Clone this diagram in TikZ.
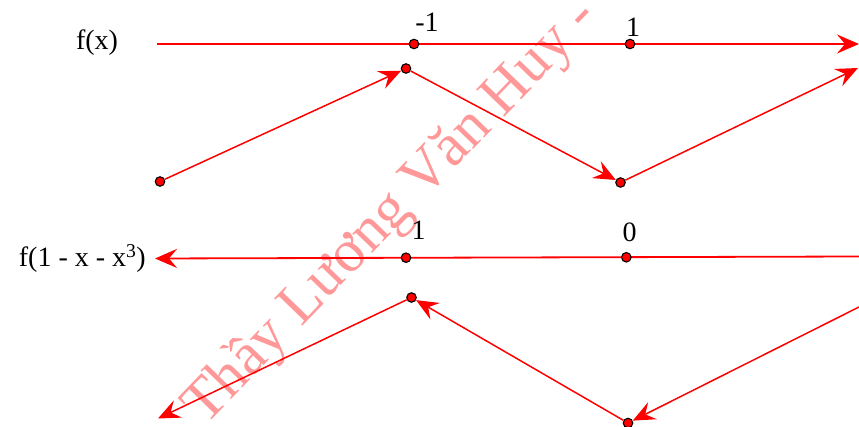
\documentclass[tikz,border=0pt]{standalone}
\usepackage{fontspec}
\setmainfont{Liberation Serif}
\usetikzlibrary{arrows.meta}

\begin{document}
\begin{tikzpicture}[x=1pt,y=-1pt,
    >={Stealth[length=22pt,width=19pt,inset=8pt]},
    axisline/.style={red,line width=1.8pt},
    varline/.style={red,line width=1.5pt},
    dot/.style={circle,draw=black,fill=red,line width=1.1pt,minimum size=9.5pt,inner sep=0pt},
    lbl/.style={font=\fontsize{28}{32}\selectfont,anchor=base,inner sep=0pt}]
    \useasboundingbox (0,0) rectangle (859,427);
    % watermark
    \node[rotate=46,anchor=base west,text=red!40,font=\fontsize{60}{62}\selectfont,inner sep=0pt] (mark) at (205,427) {Thầy Lương Văn Huy -};
    % x axis
    \coordinate (tstart) at (157,44);
    \coordinate (tend) at (859,44);
    \draw[axisline,->] (tstart) -- (tend);
    \node[dot] (tm1) at (414,44) {};
    \node[dot] (tp1) at (630,44) {};
    \node[lbl] (fx) at (97,50) {f(x)};
    \node[lbl] (lm1) at (427,31.5) {-1};
    \node[lbl] (lp1) at (633,37) {1};
    % variation of f
    \node[dot] (a0) at (160,181.5) {};
    \node[dot] (a1) at (406,68.5) {};
    \node[dot] (a2) at (620.5,182.5) {};
    \coordinate (a3) at (858,68);
    \draw[varline,->] (a0) -- (a1);
    \draw[varline,->] (a1) -- (a2);
    \draw[varline,->] (a2) -- (a3);
    % second axis
    \coordinate (bstart) at (859,256.5);
    \coordinate (bend) at (155,258.5);
    \draw[axisline,->] (bstart) -- (bend);
    \node[dot] (bp1) at (406,257.7) {};
    \node[dot] (b0) at (626.3,257.3) {};
    \node[lbl,anchor=base east] (fu) at (146,267) {f(1 - x - x\textsuperscript{3})};
    \node[lbl] (lb1) at (418.5,240) {1};
    \node[lbl] (lb0) at (629.5,242) {0};
    % variation of f(1 - x - x^3)
    \coordinate (c0) at (859,307);
    \node[dot] (c1) at (628,423) {};
    \node[dot] (c2) at (411.5,297.5) {};
    \coordinate (c3) at (158,418.5);
    \draw[varline,->] (c0) -- (c1);
    \draw[varline,->] (c1) -- (c2);
    \draw[varline,->] (c2) -- (c3);
\end{tikzpicture}
\end{document}
